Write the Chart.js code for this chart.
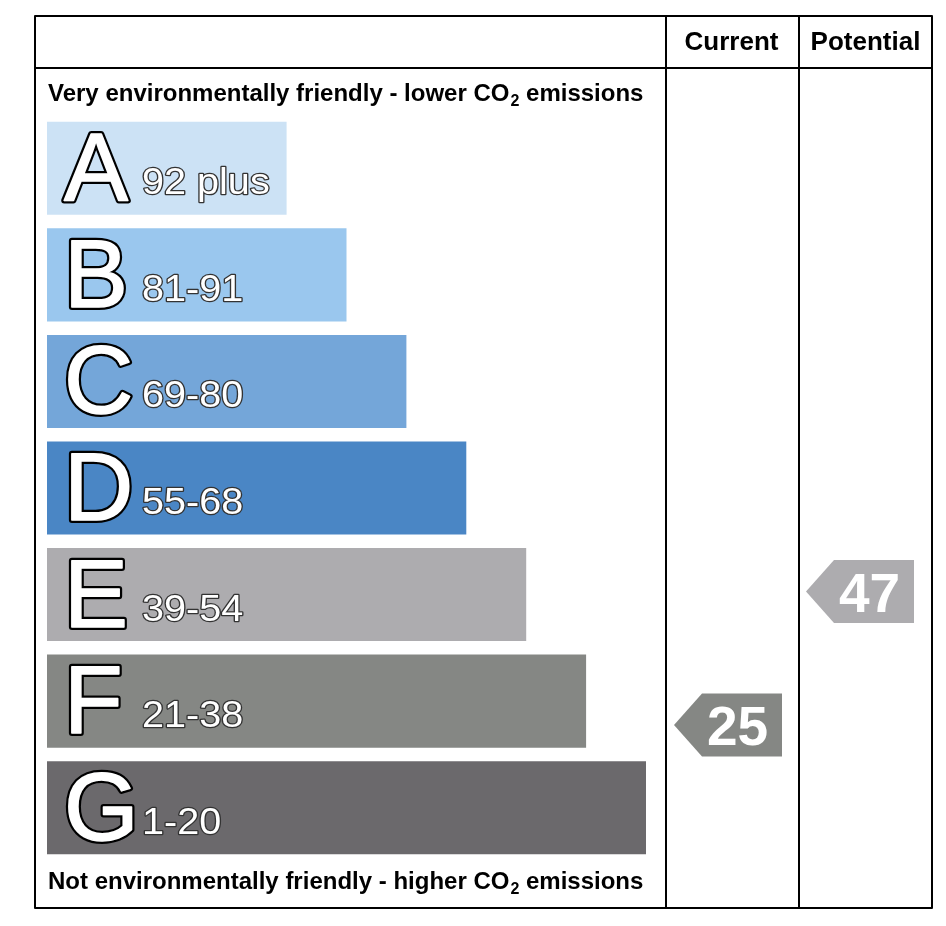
<!DOCTYPE html>
<html>
<head>
<meta charset="utf-8">
<script src="https://cdn.jsdelivr.net/npm/chart.js@4/dist/chart.umd.min.js"></script>
<style>
  html, body { margin: 0; padding: 0; background: #fff; }
  #wrap { width: 946px; height: 926px; position: relative; }
</style>
</head>
<body>
<div id="wrap"><canvas id="chart" width="946" height="926"></canvas></div>
<script>
// Bands, score ranges and relative bar lengths
const bands = ["A", "B", "C", "D", "E", "F", "G"];
const rangeLabels = ["92 plus", "81-91", "69-80", "55-68", "39-54", "21-38", "1-20"];
const bandMin = [92, 81, 69, 55, 39, 21, 1];
const bandMax = [100, 91, 80, 68, 54, 38, 20];
const barLengths = [4, 5, 6, 7, 8, 9, 10];
const bandColors = ["#cce2f5", "#9ac7ee", "#74a6d9", "#4a86c5", "#adacaf", "#858784", "#6b696c"];

// Ratings shown in the two right columns
const currentScore = 25;
const potentialScore = 47;

const topText = "Very environmentally friendly - lower CO";
const bottomText = "Not environmentally friendly - higher CO";

function bandOf(score) {
    return bandMin.findIndex((m, i) => score >= m && score <= bandMax[i]);
}

// position inside the band: bottom of band = low score, top = high score
function scoreToIndex(score) {
    const i = bandOf(score);
    const frac = (score - bandMin[i] + 1.5) / (bandMax[i] - bandMin[i] + 3);
    return i + 0.5 - frac;
}

const FONT = "'Liberation Sans', Arial, Helvetica, sans-serif";

function drawSubText(ctx, text, x, y) {
    ctx.font = "bold 24px " + FONT;
    ctx.fillStyle = "#000";
    ctx.textAlign = "left";
    ctx.textBaseline = "alphabetic";
    ctx.fillText(text, x, y);
    let w = ctx.measureText(text).width;
    ctx.font = "bold 16px " + FONT;
    ctx.fillText("2", x + w + 1, y + 5);
    let w2 = ctx.measureText("2").width;
    ctx.font = "bold 24px " + FONT;
    ctx.fillText(" emissions", x + w + w2 + 1, y);
}

const framePlugin = {
    id: "frame",
    afterDatasetsDraw(chart) {
        const ctx = chart.ctx;
        const x = chart.scales.x;
        const y = chart.scales.y;
        const left = 35, right = 932, top = 16, bottom = 908;
        const col1 = 666, col2 = 799, headBottom = 68;

        ctx.save();
        // grade letters and score ranges on the bars
        bands.forEach((b, i) => {
            const yc = y.getPixelForValue(i);
            const x0 = x.getPixelForValue(0);
            ctx.lineJoin = "round";
            ctx.font = "96px " + FONT;
            ctx.textAlign = "left";
            ctx.textBaseline = "alphabetic";
            ctx.lineWidth = 6;
            ctx.strokeStyle = "#000";
            ctx.strokeText(b, x0 + 17, yc + 32);
            ctx.fillStyle = "#fff";
            ctx.fillText(b, x0 + 17, yc + 32);
            ctx.lineWidth = 1.5;
            ctx.strokeStyle = "#fff";
            ctx.strokeText(b, x0 + 17, yc + 32);

            // range text, slightly widened as in the original artwork
            ctx.save();
            ctx.translate(x0 + 95, yc + 26);
            ctx.scale(1.1, 1);
            ctx.font = "36px " + FONT;
            ctx.lineWidth = 2.5;
            ctx.strokeStyle = "#333";
            ctx.strokeText(rangeLabels[i], 0, 0);
            ctx.fillText(rangeLabels[i], 0, 0);
            ctx.restore();
        });

        // frame
        ctx.strokeStyle = "#000";
        ctx.lineWidth = 2;
        ctx.strokeRect(left, top, right - left, bottom - top);
        ctx.beginPath();
        ctx.moveTo(left, headBottom); ctx.lineTo(right, headBottom);
        ctx.moveTo(col1, top); ctx.lineTo(col1, bottom);
        ctx.moveTo(col2, top); ctx.lineTo(col2, bottom);
        ctx.stroke();

        // headers
        ctx.fillStyle = "#000";
        ctx.font = "bold 26px " + FONT;
        ctx.textAlign = "center";
        ctx.fillText("Current", (col1 + col2) / 2 - 1, 50);
        ctx.fillText("Potential", (col2 + right) / 2, 50);

        drawSubText(ctx, topText, 48, 101);
        drawSubText(ctx, bottomText, 48, 889);

        // rating arrows
        const arrows = [
            { score: currentScore, x0: col1 + 8 },
            { score: potentialScore, x0: col2 + 7 }
        ];
        arrows.forEach(a => {
            const yc = y.getPixelForValue(scoreToIndex(a.score));
            const h = 63, tip = 28, w = 108;
            ctx.fillStyle = bandColors[bandOf(a.score)];
            ctx.beginPath();
            ctx.moveTo(a.x0, yc);
            ctx.lineTo(a.x0 + tip, yc - h / 2);
            ctx.lineTo(a.x0 + w, yc - h / 2);
            ctx.lineTo(a.x0 + w, yc + h / 2);
            ctx.lineTo(a.x0 + tip, yc + h / 2);
            ctx.closePath();
            ctx.fill();
            ctx.fillStyle = "#fff";
            ctx.font = "bold 55px " + FONT;
            ctx.textAlign = "center";
            ctx.textBaseline = "alphabetic";
            ctx.fillText(String(a.score), a.x0 + tip + (w - tip) / 2 - 4.5, yc + 20);
        });
        ctx.restore();
    }
};

new Chart(document.getElementById("chart"), {
    type: "bar",
    data: {
        labels: bands,
        datasets: [{
            data: barLengths,
            backgroundColor: bandColors,
            borderWidth: 0,
            barPercentage: 1,
            categoryPercentage: 0.873
        }]
    },
    options: {
        indexAxis: "y",
        responsive: false,
        animation: false,
        layout: { padding: { left: 47, right: 300, top: 115, bottom: 65 } },
        scales: {
            x: { display: false, min: 0, max: 10 },
            y: { display: false }
        },
        plugins: {
            legend: { display: false },
            tooltip: { enabled: false }
        }
    },
    plugins: [framePlugin]
});
</script>
</body>
</html>
